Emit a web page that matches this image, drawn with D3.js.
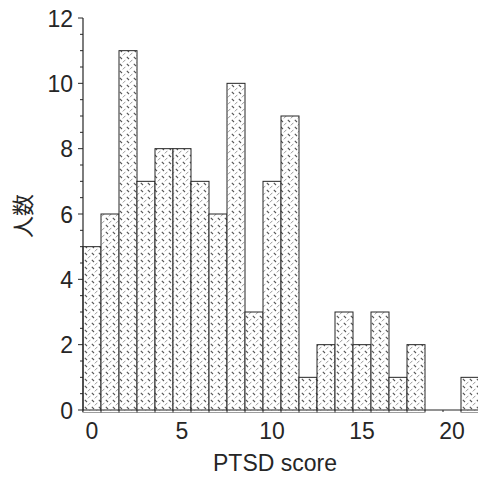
<!DOCTYPE html>
<html><head><meta charset="utf-8">
<script src="https://cdn.jsdelivr.net/npm/d3@7"></script>
<style>body{margin:0;background:#fff}</style>
</head><body>
<svg id="c" width="478" height="477"></svg>
<script>
const scores = [0,1,2,3,4,5,6,7,8,9,10,11,12,13,14,15,16,17,18,19,20,21];
const counts = [5,6,11,7,8,8,7,6,10,3,7,9,1,2,3,2,3,1,2,0,0,1];
const xTicks = [0,5,10,15,20];
const yTicks = [0,2,4,6,8,10,12];
const xLabel = "PTSD score";
const yLabel = "人数";

const svg = d3.select("#c");
const x = d3.scaleLinear().domain([-0.5, 21.5]).range([83, 479]);
const y = d3.scaleLinear().domain([0, 12]).range([410, 18]);
const font = "'Liberation Sans', Arial, sans-serif";
const ink = "#262626";

const defs = svg.append("defs");
const pat = defs.append("pattern").attr("id","hatch").attr("patternUnits","userSpaceOnUse")
  .attr("width",7).attr("height",7);
pat.append("rect").attr("width",7).attr("height",7).attr("fill","#fff");
pat.append("line").attr("x1",0.8).attr("y1",0.8).attr("x2",3).attr("y2",3)
  .attr("stroke","#555").attr("stroke-width",1.1);
pat.append("line").attr("x1",3.8).attr("y1",6.4).attr("x2",6.4).attr("y2",3.8)
  .attr("stroke","#999").attr("stroke-width",1);

// bars
const data = scores.map((s,i)=>({s, c: counts[i]}));
svg.append("g").selectAll("rect").data(data.filter(d=>d.c>0)).join("rect")
  .attr("x", d=>x(d.s-0.5))
  .attr("y", d=>y(d.c))
  .attr("width", d=>x(d.s+0.5)-x(d.s-0.5))
  .attr("height", d=>y(0)-y(d.c)+2)
  .attr("fill","url(#hatch)")
  .attr("stroke", ink).attr("stroke-width",1);
svg.append("rect").attr("x",x(-0.5)).attr("y",y(0)+0.5).attr("width",400).attr("height",1.6).attr("fill","#fff");

// x axis
const xg = svg.append("g").attr("transform",`translate(0,${y(0)})`);
xg.append("line").attr("x1",x(-0.5)).attr("x2",478).attr("stroke",ink).attr("stroke-width",1.2);
xg.selectAll("line.e").data(d3.range(-0.5, 21.6, 1)).join("line").attr("class","e")
  .attr("x1",d=>x(d)).attr("x2",d=>x(d)).attr("y1",0).attr("y2",2)
  .attr("stroke",ink).attr("stroke-width",1);
xg.selectAll("text").data(xTicks).join("text")
  .attr("x",d=>x(d)).attr("y",28.5).attr("text-anchor","middle")
  .attr("font-family",font).attr("font-size",23).attr("fill",ink).text(d=>d);

// y axis
const yg = svg.append("g").attr("transform",`translate(${x(-0.5)},0)`);
yg.append("line").attr("y1",y(0)).attr("y2",y(12)).attr("stroke",ink).attr("stroke-width",1.2);
yg.selectAll("line.m").data(d3.range(0, 12.01, 0.5)).join("line").attr("class","m")
  .attr("x1",d=> (d%2===0)? -5 : -3).attr("x2",0)
  .attr("y1",d=>y(d)).attr("y2",d=>y(d)).attr("stroke",ink).attr("stroke-width",1);
yg.selectAll("text").data(yTicks).join("text")
  .attr("x",-10).attr("y",d=>y(d)+8.5).attr("text-anchor","end")
  .attr("font-family",font).attr("font-size",23).attr("fill",ink).text(d=>d);

// axis labels
svg.append("text").attr("x",275).attr("y",471).attr("text-anchor","middle")
  .attr("font-family",font).attr("font-size",23).attr("fill",ink).text(xLabel);
svg.append("text").attr("transform","translate(31,216) rotate(-90)").attr("text-anchor","middle")
  .attr("font-family","'Noto Sans CJK JP', sans-serif").attr("font-size",22).attr("fill",ink).text(yLabel);
</script>
</body></html>
